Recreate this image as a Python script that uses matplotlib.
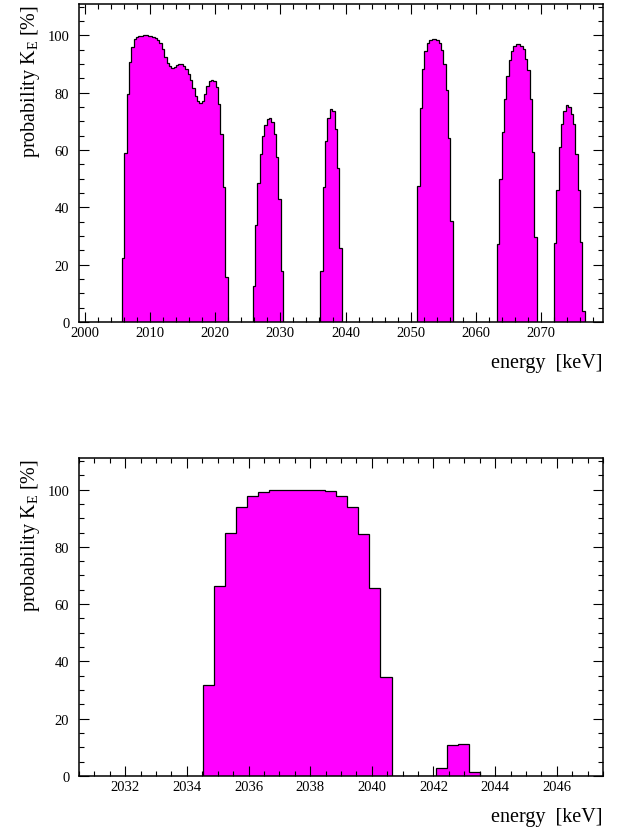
import numpy as np
import matplotlib
matplotlib.use("Agg")
import matplotlib.pyplot as plt
from matplotlib.ticker import MultipleLocator

# ---------------- data ----------------
bin_width = 0.36  # keV

# top panel: each peak = start energy (keV) + bin contents (%)
top_starts = [2005.69, 2025.75, 2036.15, 2051.03, 2063.23, 2072.0]
top_peak1 = [22.2, 59.0, 79.6, 90.7, 95.9, 98.8, 99.6, 99.8, 99.9, 100.0,
             100.0, 99.9, 99.8, 99.6, 99.2, 98.5, 97.3, 95.3, 92.6, 90.4,
             89.2, 88.7, 88.9, 89.6, 90.1, 90.0, 89.3, 88.4, 86.7, 84.5,
             81.7, 79.0, 77.0, 76.4, 77.2, 79.5, 82.3, 84.0, 84.6, 84.0,
             82.0, 76.0, 65.7, 47.0, 15.6]
top_peak2 = [12.7, 33.9, 48.5, 58.5, 65.0, 68.8, 70.7, 71.2, 69.7, 65.7,
             57.5, 43.0, 17.7]
top_peak3 = [17.9, 47.0, 63.0, 71.2, 74.4, 73.6, 67.4, 53.7, 25.7]
top_peak4 = [47.3, 74.7, 88.4, 94.5, 97.3, 98.5, 98.7, 98.7, 98.3, 97.5,
             94.8, 90.1, 81.0, 64.3, 35.2]
top_peak5 = [27.2, 49.9, 66.2, 77.9, 85.8, 91.3, 94.5, 96.5, 97.2, 97.2,
             96.5, 95.3, 91.9, 87.8, 77.9, 59.3, 29.8]
top_peak6 = [27.5, 46.0, 61.0, 69.2, 73.8, 75.6, 75.0, 72.6, 69.2, 58.7,
             45.9, 27.8, 4.0]
top_peaks = [top_peak1, top_peak2, top_peak3, top_peak4, top_peak5, top_peak6]

# bottom panel: contiguous bins starting at bottom_start
bottom_start = 2034.52
bottom_vals = [31.9, 66.5, 84.9, 93.9, 97.8, 99.3, 99.8, 100.0, 100.0, 100.0,
               99.9, 99.5, 97.8, 93.9, 84.6, 65.5, 34.5,
               0.0, 0.0, 0.0, 0.0,
               2.7, 10.9, 11.2, 1.3]

top_xticks = [2000, 2010, 2020, 2030, 2040, 2050, 2060, 2070]
bottom_xticks = [2032, 2034, 2036, 2038, 2040, 2042, 2044, 2046]
yticks = [0, 20, 40, 60, 80, 100]

xlabel = "energy  [keV]"
ylabel = r"probability K$_{\mathrm{E}}$ [%]"

# ---------------- style ----------------
plt.rcParams["font.family"] = ["Liberation Serif", "DejaVu Serif"]
plt.rcParams["mathtext.fontset"] = "custom"
plt.rcParams["mathtext.rm"] = "Liberation Serif"
plt.rcParams["mathtext.it"] = "Liberation Serif:italic"

FILL = "#ff00ff"
TICK_FS = 10.5
LABEL_FS = 14.5

fig = plt.figure(figsize=(6.19, 8.29), dpi=100)
ax_top = fig.add_axes([0.1276, 0.6104, 0.8465, 0.3836])
ax_bot = fig.add_axes([0.1276, 0.0627, 0.8465, 0.3836])


def style_axes(ax, xminor, xticks):
    ax.set_ylim(0, 111)
    ax.set_xticks(xticks)
    ax.set_yticks(yticks)
    ax.xaxis.set_minor_locator(MultipleLocator(xminor))
    ax.yaxis.set_minor_locator(MultipleLocator(5))
    ax.tick_params(which="both", direction="in", top=True, right=True,
                   width=0.8, labelsize=TICK_FS)
    ax.tick_params(which="major", length=7)
    ax.tick_params(which="minor", length=3.5)
    ax.tick_params(axis="x", pad=3)
    ax.tick_params(axis="y", pad=7)
    for s in ax.spines.values():
        s.set_linewidth(1.1)
    ax.set_xlabel(xlabel, fontsize=LABEL_FS, loc="right", labelpad=10)
    ax.set_ylabel(ylabel, fontsize=LABEL_FS, loc="top", labelpad=4)


# top panel
for start, vals in zip(top_starts, top_peaks):
    vals = np.asarray(vals)
    edges = start + bin_width * np.arange(len(vals) + 1)
    ax_top.stairs(vals, edges, fill=True, facecolor=FILL, edgecolor="black",
                  linewidth=0.9)
ax_top.set_xlim(1999.1, 2079.5)
style_axes(ax_top, 2, top_xticks)

# bottom panel
bvals = np.asarray(bottom_vals)
bedges = bottom_start + bin_width * np.arange(len(bvals) + 1)
ax_bot.stairs(bvals, bedges, fill=True, facecolor=FILL, edgecolor="black",
              linewidth=0.9)
ax_bot.set_xlim(2030.5, 2047.5)
style_axes(ax_bot, 0.5, bottom_xticks)

fig.savefig("out.png", dpi=100)
